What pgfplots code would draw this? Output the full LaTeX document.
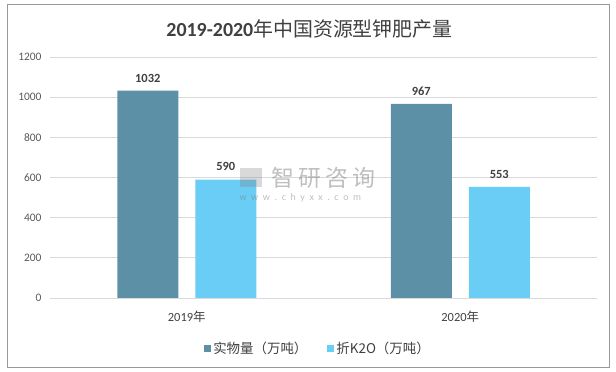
\documentclass[border=0pt]{standalone}
\usepackage{pgfplots}
\pgfplotsset{compat=1.18}
\usepackage{fontspec}
\setmainfont{Carlito}
\newfontfamily\cjk{Noto Sans CJK SC}
\definecolor{cA}{HTML}{5C90A6}
\definecolor{cB}{HTML}{69CDF5}
\definecolor{gridc}{HTML}{D9D9D9}
\definecolor{tickc}{HTML}{595959}
\definecolor{labc}{HTML}{404040}
\newcommand{\ws}{\hspace{4.6bp}}
\begin{document}
\begin{tikzpicture}
\path (0bp,0bp) rectangle (616bp,372bp);
\draw[color=gray!80, line width=0.8bp] (7bp,5bp) rectangle (609bp,368bp);
\node[font=\fontsize{20}{22}\selectfont\bfseries, text=labc, inner sep=0pt] at (309.5bp,343.5bp) {2019-2020{\cjk\mdseries 年中国资源型钾肥产量}};
\begin{axis}[
  at={(50bp,74bp)}, anchor=south west,
  scale only axis, width=547bp, height=241bp,
  ybar=17bp, bar width=61bp,
  xmin=-0.5, xmax=1.5, ymin=0, ymax=1200,
  ytick={0,200,...,1200},
  xtick=data, xticklabels={2019{\cjk 年},2020{\cjk 年}},
  axis line style={draw=none},
  major tick length=0pt,
  ymajorgrids, grid style={gridc, line width=0.8bp},
  yticklabel style={font=\fontsize{11.5}{13}\selectfont, text=tickc, xshift=-5bp},
  xticklabel style={font=\fontsize{12.5}{14}\selectfont, text=labc, yshift=-9bp},
  /pgf/number format/assume math mode=true,
  /pgf/number format/1000 sep={},
  scaled y ticks=false,
  nodes near coords,
  every node near coord/.append style={font=\fontsize{12.5}{14}\selectfont\bfseries, text=labc, yshift=5bp},
  legend style={at={(0.49,-0.165)}, anchor=north, draw=none, legend columns=2,
    font=\cjk\fontsize{13.5}{16}\selectfont, text=labc,
    /tikz/every even column/.append style={column sep=18bp}},
  legend image code/.code={\fill[#1] (0bp,-3.5bp) rectangle (7bp,3.5bp);},
]
\addplot[fill=cA, draw=none] coordinates {(0,1032) (1,967)};
\addplot[fill=cB, draw=none] coordinates {(0,590) (1,553)};
\legend{实物量（万吨）, 折K2O（万吨）}
\end{axis}
% watermark
\node[font=\cjk\fontsize{23}{25}\selectfont, text=gray, opacity=0.5, anchor=west] at (268bp,194bp) {智\hspace{4bp}研\hspace{4bp}咨\hspace{4bp}询};
\fill[gray, opacity=0.3] (240bp,185bp) rectangle (262bp,204bp);
\node[font=\fontsize{10}{12}\selectfont, text=gray, opacity=0.5, anchor=west] at (236bp,174bp) {w\ws w\ws w\ws .\ws c\ws h\ws y\ws x\ws x\ws .\ws c\ws o\ws m};
\end{tikzpicture}
\end{document}
